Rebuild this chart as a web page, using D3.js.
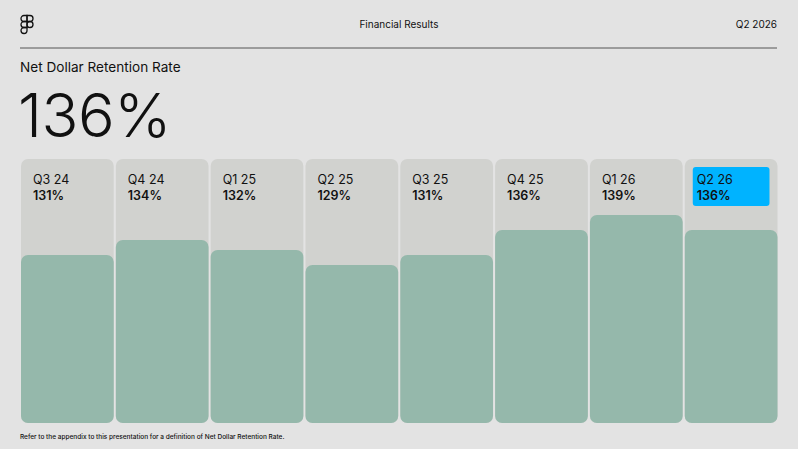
<!DOCTYPE html>
<html lang="en">
<head>
<meta charset="utf-8">
<title>Net Dollar Retention Rate</title>
<script src="https://d3js.org/d3.v7.min.js"></script>
<style>
  body { margin: 0; background: #e3e3e3; }
  svg text { font-family: Inter, "Noto Sans", Arial, sans-serif; }
</style>
</head>
<body>
<script>
// data
var quarters = ["Q3 24", "Q4 24", "Q1 25", "Q2 25", "Q3 25", "Q4 25", "Q1 26", "Q2 26"];
var ndrValues = [131, 134, 132, 129, 131, 136, 139, 136];
var highlightQuarter = "Q2 26";

var width = 798, height = 449;

var svg = d3.select("body").append("svg")
    .attr("width", width)
    .attr("height", height);

svg.append("rect").attr("width", width).attr("height", height).attr("fill", "#e3e3e3");

// header
var logo = svg.append("g")
    .attr("transform", "translate(21,15.5)")
    .attr("fill", "none")
    .attr("stroke", "#111")
    .attr("stroke-width", 1.3);
var c = 6;
// top left
logo.append("path").attr("d", "M" + c + ",0 H" + (c / 2) + " A" + (c / 2) + "," + (c / 2) + " 0 0 0 " + (c / 2) + "," + c + " H" + c + " Z");
// top right
logo.append("path").attr("d", "M" + c + ",0 H" + (c * 1.5) + " A" + (c / 2) + "," + (c / 2) + " 0 0 1 " + (c * 1.5) + "," + c + " H" + c + " Z");
// middle left
logo.append("path").attr("d", "M" + c + "," + c + " H" + (c / 2) + " A" + (c / 2) + "," + (c / 2) + " 0 0 0 " + (c / 2) + "," + (2 * c) + " H" + c + " Z");
// middle right circle
logo.append("circle").attr("cx", c * 1.5).attr("cy", c * 1.5).attr("r", c / 2);
// bottom left
logo.append("path").attr("d", "M" + c + "," + (2 * c) + " H" + (c / 2) + " A" + (c / 2) + "," + (c / 2) + " 0 1 0 " + c + "," + (2.5 * c) + " Z");

svg.append("text").text("Financial Results")
    .attr("x", 399).attr("y", 28)
    .attr("text-anchor", "middle")
    .attr("font-size", "10px")
    .attr("fill", "#111");

svg.append("text").text("Q2 2026")
    .attr("x", 777).attr("y", 28)
    .attr("text-anchor", "end")
    .attr("font-size", "10px")
    .attr("fill", "#111");

svg.append("line")
    .attr("x1", 20).attr("x2", 777)
    .attr("y1", 48).attr("y2", 48)
    .attr("stroke", "#555").attr("stroke-width", 1);

svg.append("text").text("Net Dollar Retention Rate")
    .attr("x", 20).attr("y", 72)
    .attr("font-size", "13.6px")
    .attr("fill", "#111");

svg.append("text").text(ndrValues[ndrValues.length - 1] + "%")
    .attr("x", 18).attr("y", 137)
    .attr("font-size", "61px")
    .attr("font-weight", 300)
    .attr("letter-spacing", "-0.5px")
    .attr("fill", "#111");

// scales
var xScale = d3.scaleBand()
    .domain(quarters)
    .range([21, 777.5])
    .paddingInner(0.022)
    .paddingOuter(0);

var yScale = d3.scaleLinear()
    .domain([97.4, 150.2])
    .range([423, 159]);

var cols = svg.append("g").selectAll("g")
    .data(quarters)
    .enter()
    .append("g");

// column background
cols.append("rect")
    .attr("x", function(d) { return xScale(d); })
    .attr("y", yScale(150.2))
    .attr("width", xScale.bandwidth())
    .attr("height", yScale(97.4) - yScale(150.2))
    .attr("rx", 7)
    .attr("fill", "#d1d2cf");

// value bars
cols.append("rect")
    .attr("x", function(d) { return xScale(d); })
    .attr("y", function(d, i) { return yScale(ndrValues[i]); })
    .attr("width", xScale.bandwidth())
    .attr("height", function(d, i) { return yScale(97.4) - yScale(ndrValues[i]); })
    .attr("rx", 7)
    .attr("fill", "#95b8ab");

// highlight box
cols.filter(function(d) { return d === highlightQuarter; })
    .append("rect")
    .attr("x", function(d) { return xScale(d) + 8; })
    .attr("y", 167)
    .attr("width", xScale.bandwidth() - 16)
    .attr("height", 39)
    .attr("rx", 3)
    .attr("fill", "#00b3ff");

cols.append("text")
    .text(function(d) { return d; })
    .attr("x", function(d) { return xScale(d) + 12; })
    .attr("y", 184)
    .attr("font-size", "12.5px")
    .attr("fill", "#111");

cols.append("text")
    .text(function(d, i) { return ndrValues[i] + "%"; })
    .attr("x", function(d) { return xScale(d) + 12; })
    .attr("y", 200)
    .attr("font-size", "12.5px")
    .attr("font-weight", 600)
    .attr("fill", "#111");

// footnote
svg.append("text").text("Refer to the appendix to this presentation for a definition of Net Dollar Retention Rate.")
    .attr("x", 20).attr("y", 439)
    .attr("font-size", "6.5px")
    .attr("font-weight", 500)
    .attr("fill", "#111");
</script>
</body>
</html>
